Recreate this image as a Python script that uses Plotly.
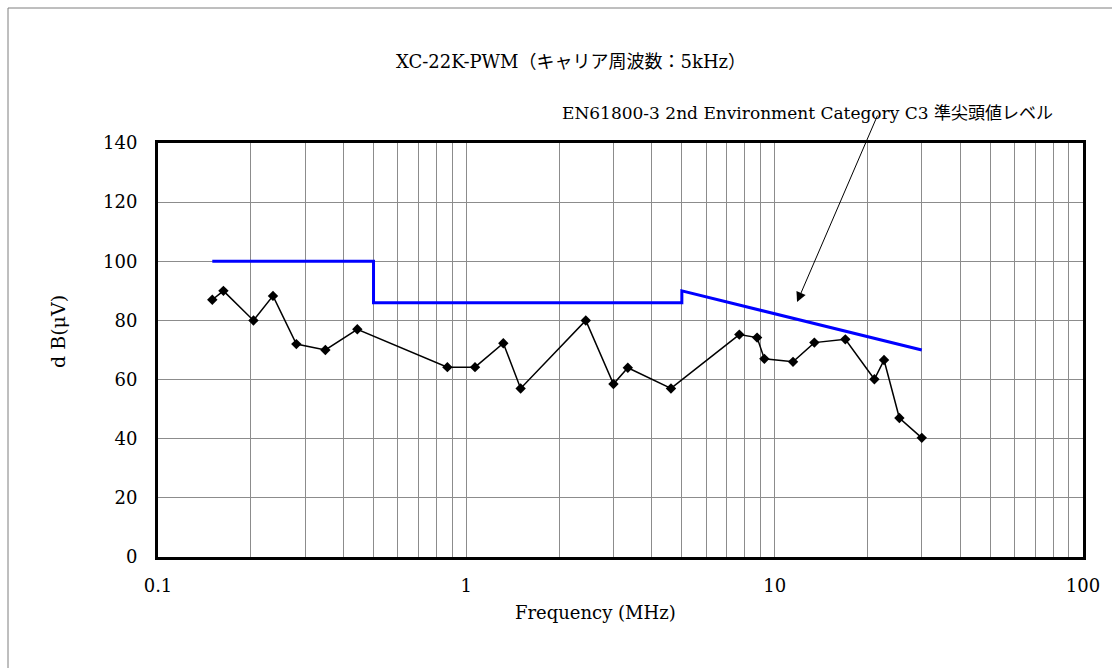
import plotly.graph_objects as go

# Measured emission (dBμV) vs frequency (MHz)
freq_mhz = [0.15, 0.163, 0.204, 0.236, 0.281, 0.349, 0.443, 0.868, 1.067, 1.318,
            1.50, 2.44, 3.0, 3.34, 4.61, 7.68, 8.77, 9.26, 11.47, 13.45,
            16.95, 21.06, 22.63, 25.38, 30.0]
level_dbuv = [87, 90, 80, 88.3, 72, 70, 77, 64.2, 64.2, 72.3,
              57, 80, 58.5, 64, 57, 75.2, 74.2, 67, 66, 72.5,
              73.6, 60.1, 66.6, 47, 40.3]

# EN61800-3 C3 quasi-peak limit
limit_freq = [0.15, 0.5, 0.5, 5, 5, 30]
limit_level = [100, 100, 86, 86, 90, 70]

x_tickvals = [m * 10 ** e for e in (-1, 0, 1) for m in range(1, 10)] + [100]
x_ticktext = ["0.1", "", "", "", "", "", "", "", "",
              "1", "", "", "", "", "", "", "", "",
              "10", "", "", "", "", "", "", "", "", "100"]
y_tickvals = [0, 20, 40, 60, 80, 100, 120, 140]

title_text = "XC-22K-PWM（キャリア周波数：5kHz）"
xaxis_title = "Frequency (MHz)"
yaxis_title = "d B(μV)"
limit_label = "EN61800-3 2nd Environment Category C3 準尖頭値レベル"

FONT = "DejaVu Serif, Noto Sans CJK JP, serif"

fig = go.Figure()
fig.add_trace(go.Scatter(x=limit_freq, y=limit_level, mode="lines",
                         line=dict(color="#0000FF", width=3), showlegend=False))
fig.add_trace(go.Scatter(x=freq_mhz, y=level_dbuv, mode="lines+markers",
                         line=dict(color="black", width=1.5),
                         marker=dict(symbol="diamond", size=8, color="black"),
                         showlegend=False))

L, R, T, B = 158, 29, 143, 111
W, H = 1112, 668
pw, ph = W - L - R, H - T - B


def px(xp):
    return (xp - L) / pw


def py(yp):
    return (H - B - yp) / ph


def label(text, x, y, size, angle=0):
    return dict(text=text, xref="paper", yref="paper", x=px(x), y=py(y),
                xanchor="center", yanchor="middle", showarrow=False,
                textangle=angle, font=dict(size=size))


fig.update_layout(
    width=W, height=H,
    margin=dict(l=L, r=R, t=T, b=B),
    paper_bgcolor="white", plot_bgcolor="white",
    font=dict(family=FONT, size=18, color="black"),
    xaxis=dict(type="log", range=[-1, 2], tickvals=x_tickvals, ticktext=x_ticktext,
               showgrid=True, gridcolor="#8c8c8c", gridwidth=1,
               showline=True, linecolor="black", linewidth=3, mirror=True,
               ticks="", ticklabelstandoff=10, zeroline=False),
    yaxis=dict(range=[0, 140], tickvals=y_tickvals,
               showgrid=True, gridcolor="#8c8c8c", gridwidth=1,
               showline=True, linecolor="black", linewidth=3, mirror=True,
               ticks="", ticklabelstandoff=14, zeroline=False),
    annotations=[
        label(title_text, 571, 61, 18),
        label(xaxis_title, 595, 612, 18),
        label(yaxis_title, 58, 332, 19, -90),
        label(limit_label, 807, 113, 17),
        dict(text="", x=1.0727, y=86.2, xref="x", yref="y",
             showarrow=True, ax=81, ay=-188, axref="pixel", ayref="pixel",
             arrowhead=2, arrowsize=2, arrowwidth=1, arrowcolor="black"),
    ],
    shapes=[
        dict(type="rect", xref="paper", yref="paper",
             x0=px(8), y0=py(690), x1=px(1140), y1=py(8),
             line=dict(color="#7f7f7f", width=1), layer="below"),
    ],
)

fig.write_html("out.html", config={"displayModeBar": False},
               post_script="document.body.style.margin='0';"
                           "document.body.style.overflow='hidden';")
